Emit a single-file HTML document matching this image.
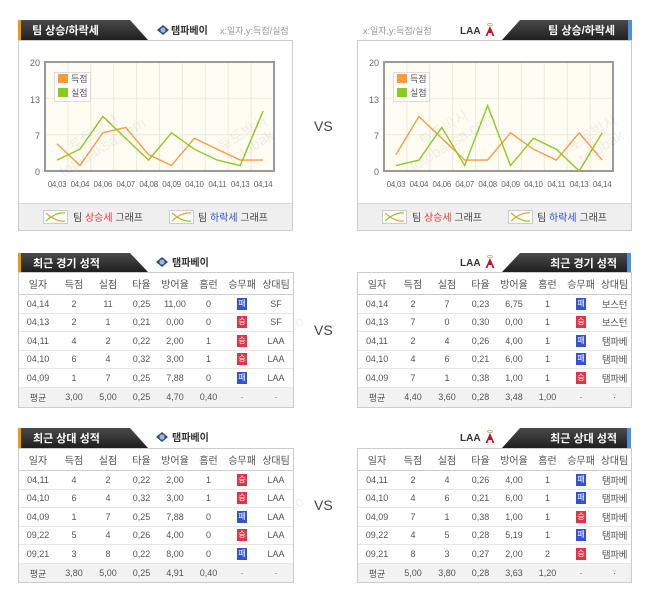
<!DOCTYPE html>
<html><head><meta charset="utf-8">
<style>
*{margin:0;padding:0;box-sizing:border-box}
body{width:650px;height:594px;background:#fff;position:relative;overflow:hidden;font-family:"Liberation Sans","Noto Sans CJK KR",sans-serif;color:#444}
.abs{position:absolute}
.box{position:absolute;border:1px solid #ccc;background:#fff;overflow:hidden}
.vs{position:absolute;font-size:14px;color:#444;font-family:"Liberation Sans",sans-serif}
table{border-collapse:collapse;table-layout:fixed;width:100%;font-size:9px;color:#555;text-align:center}
td{padding:0;white-space:nowrap;overflow:visible}
tr.h td{height:21px;color:#555;font-size:10px;border-bottom:1px solid #ccc}
tr.r td{border-bottom:1px solid #e6e6e6}
tr.a td{height:20px;background:#f2f2f2;color:#555}
td.t{font-size:9.5px;letter-spacing:-0.3px}
.w,.l{display:inline-block;width:10px;height:12px;line-height:12px;font-size:8px;color:#fff;vertical-align:middle}
.w{background:#e23445}
.l{background:#3452d6}
.wm{position:absolute;color:rgba(0,0,0,0.06);font-size:15px;transform:rotate(-32deg);white-space:nowrap;line-height:16px;text-align:center}
</style></head><body>

<svg class="abs" style="left:0;top:0" width="650" height="245" xmlns="http://www.w3.org/2000/svg">
<defs>
<linearGradient id="tg" x1="0" y1="0" x2="0" y2="1"><stop offset="0" stop-color="#4a4a4a"/><stop offset="1" stop-color="#1f1f1f"/></linearGradient>
</defs>
<rect x="18.5" y="40.5" width="274" height="190" fill="#fff" stroke="#ccc"/>
<rect x="19" y="203" width="273" height="27" fill="#efefef"/>
<line x1="19" y1="203.5" x2="292" y2="203.5" stroke="#d8d8d8"/>
<polygon points="18,20 130,20 148,40 18,40" fill="url(#tg)"/>
<rect x="18" y="20" width="3" height="20" fill="#f29a00"/>
<text x="32" y="34" font-size="11" font-weight="bold" fill="#fff" font-family="Liberation Sans, Noto Sans CJK KR, sans-serif">팀 상승/하락세</text>
<rect x="357.5" y="40.5" width="274" height="190" fill="#fff" stroke="#ccc"/>
<rect x="358" y="203" width="273" height="27" fill="#efefef"/>
<line x1="358" y1="203.5" x2="631" y2="203.5" stroke="#d8d8d8"/>
<polygon points="520,20 632,20 632,40 502,40" fill="url(#tg)"/>
<rect x="628" y="20" width="4" height="20" fill="#4a8fe0"/>
<text x="615" y="34" text-anchor="end" font-size="11" font-weight="bold" fill="#fff" font-family="Liberation Sans, Noto Sans CJK KR, sans-serif">팀 상승/하락세</text>

<rect x="45" y="62" width="229" height="109" fill="#fffcf3"/>
<g stroke="#efe9da" stroke-width="1">
<line x1="67.9" y1="62" x2="67.9" y2="171"/><line x1="90.8" y1="62" x2="90.8" y2="171"/><line x1="113.7" y1="62" x2="113.7" y2="171"/><line x1="136.6" y1="62" x2="136.6" y2="171"/><line x1="159.5" y1="62" x2="159.5" y2="171"/><line x1="182.4" y1="62" x2="182.4" y2="171"/><line x1="205.3" y1="62" x2="205.3" y2="171"/><line x1="228.2" y1="62" x2="228.2" y2="171"/><line x1="251.1" y1="62" x2="251.1" y2="171"/>
<line x1="45" y1="98.3" x2="274" y2="98.3"/><line x1="45" y1="134.7" x2="274" y2="134.7"/>
</g>
<rect x="45" y="62" width="229" height="109" fill="none" stroke="#9a9a9a" stroke-width="2"/>
<rect x="54.5" y="72.5" width="36" height="29" fill="#fff" stroke="#ddd"/>
<rect x="58" y="74" width="10" height="9" fill="#ff9933"/>
<rect x="58" y="88" width="10" height="9" fill="#88cc22"/>
<g font-size="9" fill="#555" font-family="Liberation Sans, Noto Sans CJK KR, sans-serif"><text x="71" y="82">득점</text><text x="71" y="96">실점</text></g>
<polyline fill="none" stroke="#ff9a40" stroke-width="1.4" points="57,143.75 79.9,165.55 102.8,132.85 125.7,127.4 148.6,154.65 171.5,165.55 194.4,138.3 217.3,149.2 240.2,160.1 263.1,160.1"/>
<polyline fill="none" stroke="#8ccc1e" stroke-width="1.4" points="57,160.1 79.9,149.2 102.8,116.5 125.7,138.3 148.6,160.1 171.5,132.85 194.4,149.2 217.3,160.1 240.2,165.55 263.1,111.05"/>
<g font-size="9" fill="#666" text-anchor="end" font-family="Liberation Sans, sans-serif">
<text x="40" y="66">20</text><text x="40" y="103">13</text><text x="40" y="139">7</text><text x="40" y="175">0</text></g>
<g font-size="8" fill="#666" text-anchor="middle" letter-spacing="-0.3" font-family="Liberation Sans, sans-serif">
<text x="57" y="187">04,03</text><text x="79.9" y="187">04,04</text><text x="102.8" y="187">04,06</text><text x="125.7" y="187">04,07</text><text x="148.6" y="187">04,08</text><text x="171.5" y="187">04,09</text><text x="194.4" y="187">04,10</text><text x="217.3" y="187">04,11</text><text x="240.2" y="187">04,13</text><text x="263.1" y="187">04,14</text></g>

<rect x="384" y="62" width="229" height="109" fill="#fffcf3"/>
<g stroke="#efe9da" stroke-width="1">
<line x1="406.9" y1="62" x2="406.9" y2="171"/><line x1="429.8" y1="62" x2="429.8" y2="171"/><line x1="452.7" y1="62" x2="452.7" y2="171"/><line x1="475.6" y1="62" x2="475.6" y2="171"/><line x1="498.5" y1="62" x2="498.5" y2="171"/><line x1="521.4" y1="62" x2="521.4" y2="171"/><line x1="544.3" y1="62" x2="544.3" y2="171"/><line x1="567.2" y1="62" x2="567.2" y2="171"/><line x1="590.1" y1="62" x2="590.1" y2="171"/>
<line x1="384" y1="98.3" x2="613" y2="98.3"/><line x1="384" y1="134.7" x2="613" y2="134.7"/>
</g>
<rect x="384" y="62" width="229" height="109" fill="none" stroke="#9a9a9a" stroke-width="2"/>
<rect x="393.5" y="72.5" width="36" height="29" fill="#fff" stroke="#ddd"/>
<rect x="397" y="74" width="10" height="9" fill="#ff9933"/>
<rect x="397" y="88" width="10" height="9" fill="#88cc22"/>
<g font-size="9" fill="#555" font-family="Liberation Sans, Noto Sans CJK KR, sans-serif"><text x="410" y="82">득점</text><text x="410" y="96">실점</text></g>
<polyline fill="none" stroke="#ff9a40" stroke-width="1.4" points="396,154.65 418.9,116.5 441.8,138.3 464.7,160.1 487.6,160.1 510.5,132.85 533.4,149.2 556.3,160.1 579.2,132.85 602.1,160.1"/>
<polyline fill="none" stroke="#8ccc1e" stroke-width="1.4" points="396,165.55 418.9,160.1 441.8,127.4 464.7,165.55 487.6,105.6 510.5,165.55 533.4,138.3 556.3,149.2 579.2,171 602.1,132.85"/>
<g font-size="9" fill="#666" text-anchor="end" font-family="Liberation Sans, sans-serif">
<text x="379" y="66">20</text><text x="379" y="103">13</text><text x="379" y="139">7</text><text x="379" y="175">0</text></g>
<g font-size="8" fill="#666" text-anchor="middle" letter-spacing="-0.3" font-family="Liberation Sans, sans-serif">
<text x="396" y="187">04,03</text><text x="418.9" y="187">04,04</text><text x="441.8" y="187">04,06</text><text x="464.7" y="187">04,07</text><text x="487.6" y="187">04,08</text><text x="510.5" y="187">04,09</text><text x="533.4" y="187">04,10</text><text x="556.3" y="187">04,11</text><text x="579.2" y="187">04,13</text><text x="602.1" y="187">04,14</text></g>

<g>
<rect x="43.5" y="210.5" width="24" height="13" fill="#fff" stroke="#ccc"/>
<path d="M46,213 Q56,222 65,221" stroke="#ff9a40" fill="none" stroke-width="1.2"/><path d="M46,221 Q56,212 65,213" stroke="#8ccc1e" fill="none" stroke-width="1.2"/>
<rect x="169.5" y="210.5" width="24" height="13" fill="#fff" stroke="#ccc"/>
<path d="M172,213 Q182,222 191,221" stroke="#8ccc1e" fill="none" stroke-width="1.2"/><path d="M172,221 Q182,212 191,213" stroke="#ff9a40" fill="none" stroke-width="1.2"/>
<rect x="382.5" y="210.5" width="24" height="13" fill="#fff" stroke="#ccc"/>
<path d="M385,213 Q395,222 404,221" stroke="#ff9a40" fill="none" stroke-width="1.2"/><path d="M385,221 Q395,212 404,213" stroke="#8ccc1e" fill="none" stroke-width="1.2"/>
<rect x="508.5" y="210.5" width="24" height="13" fill="#fff" stroke="#ccc"/>
<path d="M511,213 Q521,222 530,221" stroke="#8ccc1e" fill="none" stroke-width="1.2"/><path d="M511,221 Q521,212 530,213" stroke="#ff9a40" fill="none" stroke-width="1.2"/>
</g>
<g font-size="10" fill="#444" font-family="Liberation Sans, Noto Sans CJK KR, sans-serif">
<text x="73" y="221">팀 <tspan fill="#e03a3a">상승세</tspan> 그래프</text>
<text x="198" y="221">팀 <tspan fill="#2a4fd0">하락세</tspan> 그래프</text>
<text x="412" y="221">팀 <tspan fill="#e03a3a">상승세</tspan> 그래프</text>
<text x="537" y="221">팀 <tspan fill="#2a4fd0">하락세</tspan> 그래프</text>
</g>

<g transform="translate(163,30)"><polygon points="0,-5 6,0 0,5 -6,0" fill="#2c4a7c"/><circle r="2.6" fill="#9fb6d8"/></g>
<text x="171" y="34" font-size="10" font-weight="bold" fill="#333" font-family="Liberation Sans, Noto Sans CJK KR, sans-serif">탬파베이</text>
<text x="220" y="34" font-size="9" fill="#999" font-family="Liberation Sans, Noto Sans CJK KR, sans-serif">x:일자,y:득점/실점</text>
<text x="363" y="34" font-size="9" fill="#999" font-family="Liberation Sans, Noto Sans CJK KR, sans-serif">x:일자,y:득점/실점</text>
<text x="460" y="34" font-size="10" font-weight="bold" fill="#333" font-family="Liberation Sans, sans-serif">LAA</text>
<g transform="translate(490,30)"><ellipse cx="0" cy="-5.5" rx="2.5" ry="1" fill="none" stroke="#b8a060" stroke-width="0.8"/><polygon points="0,-4 4.5,6 2.5,6 1.5,3 -1.5,3 -2.5,6 -4.5,6" fill="#c8102e"/></g>
</svg>

<div class="vs" style="left:314px;top:118px">VS</div>
<div class="vs" style="left:314px;top:322px">VS</div>
<div class="vs" style="left:314px;top:497px">VS</div>

<div class="wm" style="left:50px;top:125px">토토박사<br>totobaksa.com</div>
<div class="wm" style="left:220px;top:125px">토토박사<br>totobak</div>
<div class="wm" style="left:400px;top:120px">토토박사<br>totobaksa.com</div>
<div class="wm" style="left:570px;top:125px">토토박사<br>totobak</div>
<div class="wm" style="left:50px;top:320px">토토박사<br>totobaksa.com</div>
<div class="wm" style="left:220px;top:320px">토토박사<br>totobaksa.co</div>
<div class="wm" style="left:400px;top:320px">토토박사<br>totobaksa.com</div>
<div class="wm" style="left:580px;top:320px">토토박사<br>totob</div>
<div class="wm" style="left:50px;top:500px">토토박사<br>totobaksa.com</div>
<div class="wm" style="left:220px;top:500px">토토박사<br>totobaksa.co</div>
<div class="wm" style="left:400px;top:500px">토토박사<br>totobaksa.com</div>
<div class="wm" style="left:580px;top:500px">토토박사<br>totob</div>

<svg class="abs" style="left:0;top:245px" width="650" height="210" xmlns="http://www.w3.org/2000/svg">
<defs><linearGradient id="tg2" x1="0" y1="0" x2="0" y2="1"><stop offset="0" stop-color="#4a4a4a"/><stop offset="1" stop-color="#1f1f1f"/></linearGradient></defs>
<polygon points="18,8 130,8 148,27 18,27" fill="url(#tg2)"/><rect x="18" y="8" width="3" height="19" fill="#f29a00"/>
<text x="33" y="22" font-size="11" font-weight="bold" fill="#fff" font-family="Liberation Sans, Noto Sans CJK KR, sans-serif">최근 경기 성적</text>
<polygon points="520,8 631,8 631,27 502,27" fill="url(#tg2)"/><rect x="627" y="8" width="4" height="19" fill="#4a8fe0"/>
<text x="617" y="22" text-anchor="end" font-size="11" font-weight="bold" fill="#fff" font-family="Liberation Sans, Noto Sans CJK KR, sans-serif">최근 경기 성적</text>
<g transform="translate(162,17)"><polygon points="0,-5 6,0 0,5 -6,0" fill="#2c4a7c"/><circle r="2.6" fill="#9fb6d8"/></g>
<text x="172" y="21" font-size="10" font-weight="bold" fill="#333" font-family="Liberation Sans, Noto Sans CJK KR, sans-serif">탬파베이</text>
<text x="460" y="21" font-size="10" font-weight="bold" fill="#333" font-family="Liberation Sans, sans-serif">LAA</text>
<g transform="translate(490,17)"><ellipse cx="0" cy="-5.5" rx="2.5" ry="1" fill="none" stroke="#b8a060" stroke-width="0.8"/><polygon points="0,-4 4.5,6 2.5,6 1.5,3 -1.5,3 -2.5,6 -4.5,6" fill="#c8102e"/></g>

<g transform="translate(0,175)">
<polygon points="18,8 130,8 148,28 18,28" fill="url(#tg2)"/><rect x="18" y="8" width="3" height="20" fill="#f29a00"/>
<text x="33" y="22" font-size="11" font-weight="bold" fill="#fff" font-family="Liberation Sans, Noto Sans CJK KR, sans-serif">최근 상대 성적</text>
<polygon points="520,8 631,8 631,28 502,28" fill="url(#tg2)"/><rect x="627" y="8" width="4" height="20" fill="#4a8fe0"/>
<text x="617" y="22" text-anchor="end" font-size="11" font-weight="bold" fill="#fff" font-family="Liberation Sans, Noto Sans CJK KR, sans-serif">최근 상대 성적</text>
<g transform="translate(162,17)"><polygon points="0,-5 6,0 0,5 -6,0" fill="#2c4a7c"/><circle r="2.6" fill="#9fb6d8"/></g>
<text x="172" y="21" font-size="10" font-weight="bold" fill="#333" font-family="Liberation Sans, Noto Sans CJK KR, sans-serif">탬파베이</text>
<text x="460" y="21" font-size="10" font-weight="bold" fill="#333" font-family="Liberation Sans, sans-serif">LAA</text>
<g transform="translate(490,17)"><ellipse cx="0" cy="-5.5" rx="2.5" ry="1" fill="none" stroke="#b8a060" stroke-width="0.8"/><polygon points="0,-4 4.5,6 2.5,6 1.5,3 -1.5,3 -2.5,6 -4.5,6" fill="#c8102e"/></g>
</g>
</svg>

<div class="box" style="left:18px;top:272px;width:276px;height:136px">
<table><colgroup><col style="width:38px"><col style="width:34px"><col style="width:34px"><col style="width:33px"><col style="width:34px"><col style="width:33px"><col style="width:34px"><col></colgroup>
<tr class="h"><td>일자</td><td>득점</td><td>실점</td><td>타율</td><td>방어율</td><td>홈런</td><td>승무패</td><td>상대팀</td></tr>
<tr class="r" style="height:19px"><td>04,14</td><td>2</td><td>11</td><td>0,25</td><td>11,00</td><td>0</td><td><span class="l">패</span></td><td>SF</td></tr>
<tr class="r" style="height:18px"><td>04,13</td><td>2</td><td>1</td><td>0,21</td><td>0,00</td><td>0</td><td><span class="w">승</span></td><td>SF</td></tr>
<tr class="r" style="height:19px"><td>04,11</td><td>4</td><td>2</td><td>0,22</td><td>2,00</td><td>1</td><td><span class="w">승</span></td><td>LAA</td></tr>
<tr class="r" style="height:18px"><td>04,10</td><td>6</td><td>4</td><td>0,32</td><td>3,00</td><td>1</td><td><span class="w">승</span></td><td>LAA</td></tr>
<tr class="r" style="height:19px"><td>04,09</td><td>1</td><td>7</td><td>0,25</td><td>7,88</td><td>0</td><td><span class="l">패</span></td><td>LAA</td></tr>
<tr class="a"><td>평균</td><td>3,00</td><td>5,00</td><td>0,25</td><td>4,70</td><td>0,40</td><td>·</td><td>·</td></tr>
</table></div>

<div class="box" style="left:357px;top:272px;width:275px;height:136px">
<table><colgroup><col style="width:38px"><col style="width:34px"><col style="width:34px"><col style="width:33px"><col style="width:34px"><col style="width:33px"><col style="width:34px"><col></colgroup>
<tr class="h"><td>일자</td><td>득점</td><td>실점</td><td>타율</td><td>방어율</td><td>홈런</td><td>승무패</td><td>상대팀</td></tr>
<tr class="r" style="height:19px"><td>04,14</td><td>2</td><td>7</td><td>0,23</td><td>6,75</td><td>1</td><td><span class="l">패</span></td><td class="t">보스턴</td></tr>
<tr class="r" style="height:18px"><td>04,13</td><td>7</td><td>0</td><td>0,30</td><td>0,00</td><td>1</td><td><span class="w">승</span></td><td class="t">보스턴</td></tr>
<tr class="r" style="height:19px"><td>04,11</td><td>2</td><td>4</td><td>0,26</td><td>4,00</td><td>1</td><td><span class="l">패</span></td><td class="t">탬파베</td></tr>
<tr class="r" style="height:18px"><td>04,10</td><td>4</td><td>6</td><td>0,21</td><td>6,00</td><td>1</td><td><span class="l">패</span></td><td class="t">탬파베</td></tr>
<tr class="r" style="height:19px"><td>04,09</td><td>7</td><td>1</td><td>0,38</td><td>1,00</td><td>1</td><td><span class="w">승</span></td><td class="t">탬파베</td></tr>
<tr class="a"><td>평균</td><td>4,40</td><td>3,60</td><td>0,28</td><td>3,48</td><td>1,00</td><td>·</td><td>·</td></tr>
</table></div>

<div class="box" style="left:18px;top:448px;width:276px;height:135px">
<table><colgroup><col style="width:38px"><col style="width:34px"><col style="width:34px"><col style="width:33px"><col style="width:34px"><col style="width:33px"><col style="width:34px"><col></colgroup>
<tr class="h"><td style="height:20px">일자</td><td>득점</td><td>실점</td><td>타율</td><td>방어율</td><td>홈런</td><td>승무패</td><td>상대팀</td></tr>
<tr class="r" style="height:19px"><td>04,11</td><td>4</td><td>2</td><td>0,22</td><td>2,00</td><td>1</td><td><span class="w">승</span></td><td>LAA</td></tr>
<tr class="r" style="height:18px"><td>04,10</td><td>6</td><td>4</td><td>0,32</td><td>3,00</td><td>1</td><td><span class="w">승</span></td><td>LAA</td></tr>
<tr class="r" style="height:19px"><td>04,09</td><td>1</td><td>7</td><td>0,25</td><td>7,88</td><td>0</td><td><span class="l">패</span></td><td>LAA</td></tr>
<tr class="r" style="height:18px"><td>09,22</td><td>5</td><td>4</td><td>0,26</td><td>4,00</td><td>0</td><td><span class="w">승</span></td><td>LAA</td></tr>
<tr class="r" style="height:19px"><td>09,21</td><td>3</td><td>8</td><td>0,22</td><td>8,00</td><td>0</td><td><span class="l">패</span></td><td>LAA</td></tr>
<tr class="a"><td>평균</td><td>3,80</td><td>5,00</td><td>0,25</td><td>4,91</td><td>0,40</td><td>·</td><td>·</td></tr>
</table></div>

<div class="box" style="left:357px;top:448px;width:275px;height:135px">
<table><colgroup><col style="width:38px"><col style="width:34px"><col style="width:34px"><col style="width:33px"><col style="width:34px"><col style="width:33px"><col style="width:34px"><col></colgroup>
<tr class="h"><td style="height:20px">일자</td><td>득점</td><td>실점</td><td>타율</td><td>방어율</td><td>홈런</td><td>승무패</td><td>상대팀</td></tr>
<tr class="r" style="height:19px"><td>04,11</td><td>2</td><td>4</td><td>0,26</td><td>4,00</td><td>1</td><td><span class="l">패</span></td><td class="t">탬파베</td></tr>
<tr class="r" style="height:18px"><td>04,10</td><td>4</td><td>6</td><td>0,21</td><td>6,00</td><td>1</td><td><span class="l">패</span></td><td class="t">탬파베</td></tr>
<tr class="r" style="height:19px"><td>04,09</td><td>7</td><td>1</td><td>0,38</td><td>1,00</td><td>1</td><td><span class="w">승</span></td><td class="t">탬파베</td></tr>
<tr class="r" style="height:18px"><td>09,22</td><td>4</td><td>5</td><td>0,28</td><td>5,19</td><td>1</td><td><span class="l">패</span></td><td class="t">탬파베</td></tr>
<tr class="r" style="height:19px"><td>09,21</td><td>8</td><td>3</td><td>0,27</td><td>2,00</td><td>2</td><td><span class="w">승</span></td><td class="t">탬파베</td></tr>
<tr class="a"><td>평균</td><td>5,00</td><td>3,80</td><td>0,28</td><td>3,63</td><td>1,20</td><td>·</td><td>·</td></tr>
</table></div>

</body></html>
